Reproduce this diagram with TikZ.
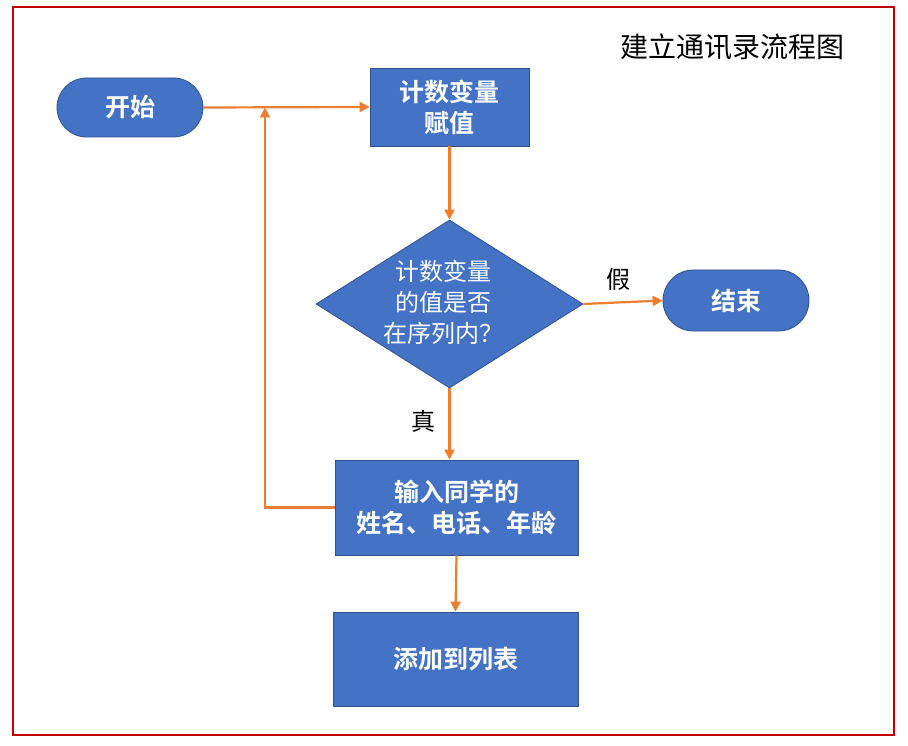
\documentclass[tikz,border=0pt]{standalone}
\usepackage{fontspec}
\usetikzlibrary{shapes.geometric,shapes.misc,arrows.meta}
\newfontfamily\cjk{Noto Sans CJK SC}
\newfontfamily\cjkb{Noto Sans CJK SC Bold}
\definecolor{boxblue}{HTML}{4472C4}
\definecolor{boxedge}{HTML}{2F528F}
\definecolor{arrowor}{HTML}{ED7D31}
\definecolor{frame}{HTML}{C00000}
\tikzset{
  base/.style={fill=boxblue,draw=boxedge,line width=0.8pt,text=white,align=center,inner sep=0pt},
  procbox/.style={base,rectangle,font=\cjkb\fontsize{25}{31}\selectfont},
  term/.style={base,rounded rectangle,font=\cjkb\fontsize{25}{31}\selectfont},
  decis/.style={base,diamond},
  dtext/.style={text=white,align=center,inner sep=0pt,font=\cjk\fontsize{24}{31}\selectfont},
  flow/.style={draw=arrowor,line width=2.2pt,-{Triangle[length=10pt,width=10pt]}},
  lbl/.style={font=\cjk\fontsize{24}{30}\selectfont,text=black},
}
\begin{document}
\begin{tikzpicture}[x=1pt,y=-1pt]
\useasboundingbox (0,0) rectangle (908,746);
\fill[white] (0,0) rectangle (908,746);
\draw[frame,line width=2pt] (13,7) rectangle (894,735);
\node[font=\cjk\fontsize{28}{30}\selectfont] (title) at (732,47) {建立通讯录流程图};
\node[term,minimum width=146pt,minimum height=59pt] (start) at (130,107.5) {开始};
\node[procbox,minimum width=159pt,minimum height=78pt] (assign) at (449.5,107) {计数变量\\赋值};
\node[decis,minimum width=267pt,minimum height=168pt] (check) at (449.5,304) {};
\node[dtext] (checktxt) at (443,302) {计数变量\\的值是否\\在序列内？};
\node[term,minimum width=146pt,minimum height=61pt] (end) at (736,300.5) {结束};
\node[procbox,minimum width=243pt,minimum height=95pt] (input) at (456.5,507.5) {输入同学的\\姓名、电话、年龄};
\node[procbox,minimum width=245pt,minimum height=94pt] (add) at (455.5,659) {添加到列表};
\coordinate (loopc) at (265,507.5);
\coordinate (loopt) at (265,107.5);
\draw[flow] (start.east) -- (assign.west);
\draw[flow] (input.west) -- (loopc) -- (loopt);
\draw[flow] (assign.south) -- (check.north);
\draw[flow] (check.east) -- (end.west);
\draw[flow] (check.south) -- (check.south |- input.north);
\draw[flow] (input.south) -- (add.north);
\node[lbl] (false) at (618,279) {假};
\node[lbl] (true) at (423,421) {真};
\end{tikzpicture}
\end{document}
